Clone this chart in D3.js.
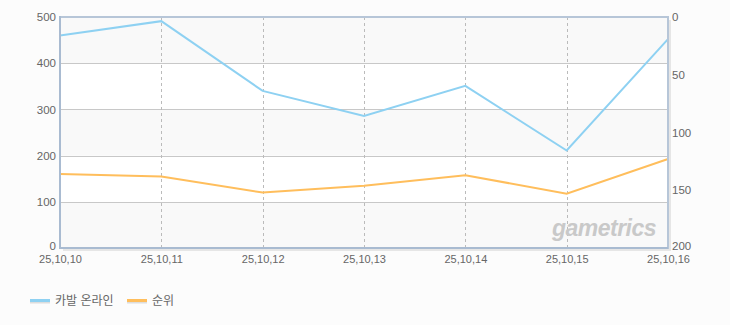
<!DOCTYPE html>
<html><head><meta charset="utf-8">
<script src="https://cdn.jsdelivr.net/npm/d3@7/dist/d3.min.js"></script>
<style>
html,body{margin:0;padding:0;background:#fcfcfc;}
svg{display:block;}
text{font-family:"Liberation Sans","Noto Sans CJK KR",sans-serif;}
</style></head>
<body>
<svg id="c" width="730" height="325"></svg>
<script>
const categories = ["25,10,10","25,10,11","25,10,12","25,10,13","25,10,14","25,10,15","25,10,16"];
const users = [460, 491, 340, 286, 351, 211, 452];
const ranks = [136, 138, 152, 146, 137, 153, 123];
const leftTicks = [0, 100, 200, 300, 400, 500];
const rightTicks = [0, 50, 100, 150, 200];
const seriesNames = ["카발 온라인", "순위"];
const colors = ["#8ed1f2", "#ffbe5c"];

const svg = d3.select("#c");
const L = 60, R = 668, T = 17, B = 248;
const x = d3.scalePoint().domain(categories).range([L, R]);
const yL = d3.scaleLinear().domain([0, 500]).range([B, T]);
const yR = d3.scaleLinear().domain([0, 200]).range([T, B]);

// shadow
svg.append("rect").attr("x", L+3).attr("y", T+3).attr("width", R-L).attr("height", B-T)
  .attr("fill", "#e6e6e6");
svg.append("rect").attr("x", L).attr("y", T).attr("width", R-L).attr("height", B-T).attr("fill", "#ffffff");

// bands
const bands = d3.range(leftTicks.length - 1);
svg.selectAll("rect.band").data(bands).enter().append("rect")
  .attr("x", L).attr("width", R-L)
  .attr("y", i => yL(leftTicks[i+1])).attr("height", i => yL(leftTicks[i]) - yL(leftTicks[i+1]))
  .attr("fill", i => (i % 2 === 0) ? "#f9f9f9" : "#ffffff");

// horizontal grid
svg.selectAll("line.hg").data(leftTicks.slice(1, -1)).enter().append("line")
  .attr("x1", L).attr("x2", R).attr("y1", d => Math.round(yL(d))+0.5).attr("y2", d => Math.round(yL(d))+0.5)
  .attr("stroke", "#c8c8c8").attr("stroke-width", 1);
// vertical dashed grid
svg.selectAll("line.vg").data(categories.slice(1, -1)).enter().append("line")
  .attr("x1", d => Math.round(x(d))+0.5).attr("x2", d => Math.round(x(d))+0.5).attr("y1", T).attr("y2", B)
  .attr("stroke", "#bbbbbb").attr("stroke-width", 1).attr("stroke-dasharray", "3,3");

// watermark
svg.append("text").attr("x", 604).attr("y", 236).attr("text-anchor", "middle")
  .attr("font-size", 23).attr("font-weight", "bold").attr("font-style", "italic")
  .attr("fill", "#c9c9c9").attr("letter-spacing", -0.5).text("gametrics");

// lines
const lineL = d3.line().x((d, i) => x(categories[i])).y(d => yL(d));
const lineR = d3.line().x((d, i) => x(categories[i])).y(d => yR(d));
svg.append("path").attr("d", lineL(users)).attr("fill", "none").attr("stroke", colors[0]).attr("stroke-width", 2);
svg.append("path").attr("d", lineR(ranks)).attr("fill", "none").attr("stroke", colors[1]).attr("stroke-width", 2);

// frame
const frame = "#a9bbd1";
svg.append("line").attr("x1", L).attr("x2", R).attr("y1", T).attr("y2", T).attr("stroke", "#b7c6d8").attr("stroke-width", 2);
svg.append("line").attr("x1", R).attr("x2", R).attr("y1", T-1).attr("y2", B+1).attr("stroke", "#b7c6d8").attr("stroke-width", 2);
svg.append("line").attr("x1", L).attr("x2", L).attr("y1", T-1).attr("y2", B+1).attr("stroke", frame).attr("stroke-width", 2);
svg.append("line").attr("x1", L).attr("x2", R).attr("y1", B).attr("y2", B).attr("stroke", frame).attr("stroke-width", 2);

// axes labels
const axL = d3.axisLeft(yL).tickValues(leftTicks).tickSize(0).tickPadding(3);
const gL = svg.append("g").attr("transform", `translate(${L-1},0)`).call(axL);
gL.select(".domain").remove();
gL.selectAll("text").attr("fill", "#666").attr("font-size", 11.5);
gL.selectAll(".tick").filter(d => d === 0).select("text").attr("dy", "0.1em");

const axR = d3.axisRight(yR).tickValues(rightTicks).tickSize(0).tickPadding(3);
const gR = svg.append("g").attr("transform", `translate(${R+1},0)`).call(axR);
gR.select(".domain").remove();
gR.selectAll("text").attr("fill", "#666").attr("font-size", 11.5);
gR.selectAll(".tick").filter(d => d === 200).select("text").attr("dy", "0.1em");

const axB = d3.axisBottom(x).tickSize(0).tickPadding(7);
const gB = svg.append("g").attr("transform", `translate(0,${B})`).call(axB);
gB.select(".domain").remove();
gB.selectAll("text").attr("fill", "#666").attr("font-size", 11);

// legend
const lg = [{x: 30}, {x: 127}];
lg.forEach((p, i) => {
  svg.append("line").attr("x1", p.x).attr("x2", p.x+20).attr("y1", 302.5).attr("y2", 302.5).attr("stroke", "#dddddd").attr("stroke-width", 2);
  svg.append("line").attr("x1", p.x).attr("x2", p.x+20).attr("y1", 300.5).attr("y2", 300.5).attr("stroke", colors[i]).attr("stroke-width", 3);
  svg.append("text").attr("x", p.x+25).attr("y", 305).attr("fill", "#666").attr("font-size", 12).text(seriesNames[i]);
});
</script>
</body></html>
